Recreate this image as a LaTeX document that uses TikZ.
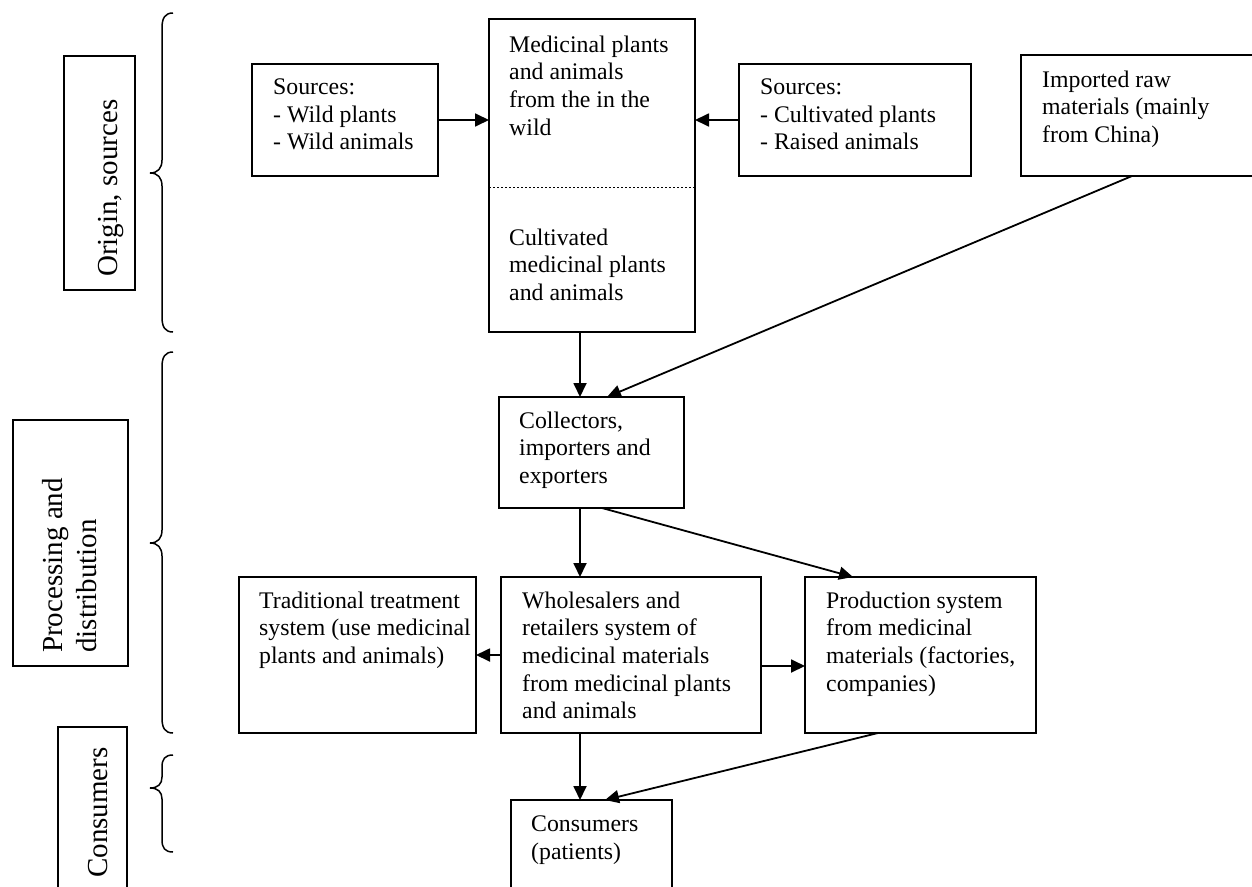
\documentclass[tikz,border=0pt]{standalone}
\usepackage{fontspec}
\setmainfont{Liberation Serif}
\usetikzlibrary{arrows.meta}
\begin{document}
\begin{tikzpicture}[x=1pt,y=-1pt,
  box/.style={draw, line width=1.8pt, inner sep=0pt, outer sep=0pt, anchor=north west},
  txt/.style={anchor=north west, inner sep=0pt, align=left, font=\fontsize{23.8}{27.6}\selectfont},
  side/.style={inner sep=0pt, align=left, rotate=90, font=\fontsize{29}{34}\selectfont},
  arr/.style={line width=1.8pt, -{Triangle[length=14pt,width=13pt]}},
  brace/.style={line width=1.5pt}]
\useasboundingbox (0,0) rectangle (1252,886);
\clip (0,0) rectangle (1252,886);

% boxes
\node[box, minimum width=186pt, minimum height=112pt] (srcL) at (252,64) {};
\node[box, minimum width=206pt, minimum height=313pt] (main) at (489,19) {};
\node[box, minimum width=232pt, minimum height=112pt] (srcR) at (739,64) {};
\node[box, minimum width=241pt, minimum height=121pt] (imp) at (1021,55) {};
\node[box, minimum width=185pt, minimum height=111pt] (coll) at (499,397) {};
\node[box, minimum width=237pt, minimum height=156pt] (trad) at (239,577) {};
\node[box, minimum width=260pt, minimum height=156pt] (whole) at (501,577) {};
\node[box, minimum width=231pt, minimum height=156pt] (prod) at (805,577) {};
\node[box, minimum width=161pt, minimum height=110pt] (cons) at (511,800) {};
\node[box, minimum width=71pt, minimum height=234pt] (origBox) at (64,56) {};
\node[box, minimum width=115pt, minimum height=246pt] (procBox) at (13,420) {};
\node[box, minimum width=69pt, minimum height=180pt] (consBox) at (58,727) {};

% dotted divider in main box
\draw[line width=0.8pt, dash pattern=on 2pt off 2pt] (489,187) -- (695,187);

% texts
\node[txt] (tSrcL) at (273,78.5) {Sources:\\- Wild plants\\- Wild animals};
\node[txt] (tMain1) at (509,35.6) {Medicinal plants\\and animals\\from the in the\\wild};
\node[txt] (tMain2) at (509,228.6) {Cultivated\\medicinal plants\\and animals};
\node[txt] (tSrcR) at (760,78.5) {Sources:\\- Cultivated plants\\- Raised animals};
\node[txt] (tImp) at (1042,70.6) {Imported raw\\materials (mainly\\from China)};
\node[txt] (tColl) at (519,411.6) {Collectors,\\importers and\\exporters};
\node[txt] (tTrad) at (259,591.6) {Traditional treatment\\system (use medicinal\\plants and animals)};
\node[txt] (tWhole) at (522,591.6) {Wholesalers and\\retailers system of\\medicinal materials\\from medicinal plants\\and animals};
\node[txt] (tProd) at (826,591.6) {Production system\\from medicinal\\materials (factories,\\companies)};
\node[txt] (tCons) at (531,815.6) {Consumers\\(patients)};

\node[side, anchor=base west] (tOrig) at (117,277) {Origin, sources};
\node[side, anchor=north west] (tProc) at (42,653) {Processing and\\distribution};
\node[side, anchor=base west] (tConsL) at (107,878) {Consumers};

% braces
\draw[brace] (173,13) .. controls (165,13) and (162,18) .. (162,28) -- (162,160)
  .. controls (162,168) and (158,173) .. (150,173)
  .. controls (158,173) and (162,178) .. (162,186) -- (162,317)
  .. controls (162,327) and (165,332) .. (173,332);
\draw[brace] (173,352) .. controls (165,352) and (162,357) .. (162,367) -- (162,530)
  .. controls (162,538) and (158,543) .. (150,543)
  .. controls (158,543) and (162,548) .. (162,556) -- (162,718)
  .. controls (162,728) and (165,733) .. (173,733);
\draw[brace] (173,755) .. controls (165,755) and (162,759) .. (162,767) -- (162,777)
  .. controls (162,784) and (158,788) .. (150,788)
  .. controls (158,788) and (162,792) .. (162,799) -- (162,840)
  .. controls (162,848) and (165,852) .. (173,852);

% connectors
\draw[arr] (srcL.east) -- (srcL.east -| main.west);
\draw[arr] (srcR.west) -- (srcR.west -| main.east);
\draw[arr] ([xshift=-12pt]main.south) -- ([xshift=-12pt]main.south |- coll.north);
\draw[arr] ([xshift=-9.5pt]imp.south) -- ([xshift=15.5pt]coll.north);
\draw[arr] ([xshift=-11.5pt]coll.south) -- ([xshift=-11.5pt]coll.south |- whole.north);
\draw[arr] ([xshift=10.5pt]coll.south) -- ([xshift=-67.5pt]prod.north);
\draw[arr] (whole.west) -- (whole.west -| trad.east);
\draw[arr] ([yshift=-11pt]whole.east) -- ([yshift=-11pt]whole.east -| prod.west);
\draw[arr] ([xshift=-51pt]whole.south) -- ([xshift=-51pt]whole.south |- cons.north);
\draw[arr] ([xshift=-42.5pt]prod.south) -- ([xshift=13.5pt]cons.north);
\end{tikzpicture}
\end{document}
